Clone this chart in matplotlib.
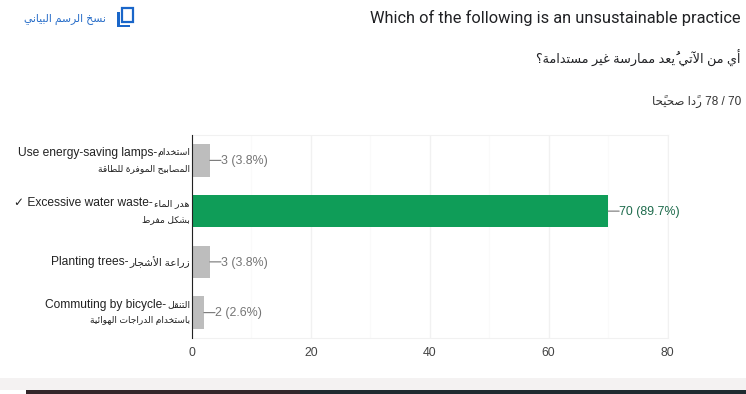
import matplotlib
matplotlib.use("Agg")
import matplotlib.pyplot as plt
from matplotlib.patches import Rectangle

W, H = 746, 394

title_en = "Which of the following is an unsustainable practice"
title_ar = "أي من الآتي يُعد ممارسة غير مستدامة؟"
score_ar = "ردًا صحيحًا"
score_num = "78 / 70"
copy_ar = "نسخ الرسم البياني"

labels_en = ["Use energy-saving lamps-", "✓ Excessive water waste-", "Planting trees-", "Commuting by bicycle-"]
labels_ar_1 = ["استخدام", "هدر الماء", "زراعة الأشجار", "التنقل"]
labels_ar_2 = ["المصابيح الموفرة للطاقة", "بشكل مفرط", "", "باستخدام الدراجات الهوائية"]
values = [3, 70, 3, 2]
percents = [3.8, 89.7, 3.8, 2.6]
correct = [False, True, False, False]
x_ticks = [0, 20, 40, 60, 80]
x_minor = [10, 30, 50, 70]

FONT = ["Liberation Sans", "DejaVu Sans"]

# matplotlib does no arabic shaping, so pick the presentation forms by hand
forms = {}
code = 0xFE80
for ch, n in zip("ءآأؤإئابةتثجحخدذرزسشصضطظعغفقكلمنهوىي",
                 [1, 2, 2, 2, 2, 4, 2, 4, 2, 4, 4, 4, 4, 4, 2, 2, 2, 2, 4, 4, 4, 4, 4, 4, 4, 4, 4, 4, 4, 4, 4, 4, 4, 2, 2, 4]):
    forms[ch] = [chr(code + i) for i in range(n)]
    code += n
lam_alef = {"آ": 0xFEF5, "أ": 0xFEF7, "إ": 0xFEF9, "ا": 0xFEFB}
marks = "\u064B\u064C\u064D\u064E\u064F\u0650\u0651\u0652"


def ar(text):
    """Returns arabic text joined and in visual (left to right) order."""
    clusters = []
    for c in text:
        if c in marks and clusters:
            clusters[-1][1] += c
        elif c in lam_alef and clusters and clusters[-1][0] == "ل":
            clusters[-1][0] = "ل" + c
        else:
            clusters.append([c, ""])
    out = []
    for i, (c, m) in enumerate(clusters):
        prev = clusters[i - 1][0] if i > 0 else " "
        nxt = clusters[i + 1][0] if i + 1 < len(clusters) else " "
        joins_prev = prev in forms and len(forms[prev]) == 4
        if len(c) == 2:
            g = chr(lam_alef[c[1]] + (1 if joins_prev else 0))
        elif c in forms:
            f = forms[c]
            joins_next = nxt[0] in forms and len(f) == 4 and nxt[0] != "ء"
            if len(f) == 1:
                g = f[0]
            elif joins_prev and joins_next:
                g = f[3]
            elif joins_next:
                g = f[2]
            elif joins_prev:
                g = f[1]
            else:
                g = f[0]
        else:
            g = c
        out.append(g + m)
    return "".join(reversed(out))


def px_text(fig, x, y, s, size_px, color, ha="right", family=FONT):
    fig.text(x / W, 1 - y / H, s, fontsize=size_px * 0.72, color=color, ha=ha, va="center", family=family)


def px_rect(fig, x0, y0, x1, y1, color):
    fig.add_artist(Rectangle((x0 / W, 1 - y1 / H), (x1 - x0) / W, (y1 - y0) / H, transform=fig.transFigure,
                             facecolor=color, edgecolor="none"))


def main():
    fig = plt.figure(figsize=(W / 100, H / 100), dpi=100)

    ax = fig.add_axes([192 / W, 1 - 338 / H, 475.5 / W, 203 / H])
    pos = list(range(len(values)))
    colors = ["#0f9d58" if c else "#bdbdbd" for c in correct]
    ax.barh(pos, values, height=0.64, color=colors, zorder=3)
    ax.set_xlim(0, 80)
    ax.set_ylim(3.5, -0.5)
    ax.set_yticks([])
    ax.set_xticks(x_ticks)
    ax.set_xticks(x_minor, minor=True)
    ax.grid(True, axis="x", which="major", color="#f1f1f1", lw=1, zorder=0)
    ax.grid(True, axis="x", which="minor", color="#fafafa", lw=1, zorder=0)
    ax.tick_params(axis="x", which="both", length=0, pad=6.5, labelsize=8.8, labelcolor="#444444")
    for name in ["top", "right", "bottom"]:
        ax.spines[name].set_color("#f1f1f1")
    ax.spines["left"].set_color("#222222")
    ax.spines["left"].set_zorder(5)
    for tick in ax.get_xticklabels():
        tick.set_family(FONT)

    for i, v in enumerate(values):
        col = "#1e6b4c" if correct[i] else "#757575"
        ax.annotate(f"{v} ({percents[i]}%)", xy=(v, i), xytext=(8.2, -0.6), textcoords="offset points",
                    va="center", ha="left", fontsize=8.9, color=col, family=FONT)
        # short connector from the bar end to its label
        ax.annotate("", xy=(v, i), xytext=(8, 0), textcoords="offset points",
                    arrowprops=dict(arrowstyle="-", color="#757575", lw=0.8, shrinkA=0, shrinkB=0))

    # category labels, arabic part is set smaller than the english part
    ends = [157, 152, 128, 166]
    ar_sizes = [9.5, 9.5, 10.5, 9.5]
    for i in range(len(values)):
        yc = 160.5 + i * 50.75
        if labels_ar_2[i]:
            y1, y2 = yc - 8, yc + 8
        else:
            y1, y2 = yc, yc
        px_text(fig, ends[i] + 0.5, y1, labels_en[i], 12, "#222222")
        px_text(fig, 190, y1, ar(labels_ar_1[i]), ar_sizes[i], "#222222")
        if labels_ar_2[i]:
            px_text(fig, 190, y2, ar(labels_ar_2[i]), 9.2, "#222222")

    px_text(fig, 741, 18, title_en, 16.4, "#202124", family=["Roboto", "DejaVu Sans"])
    px_text(fig, 741, 58, ar(title_ar), 12.8, "#202124")
    px_text(fig, 741, 102, f"{ar(score_ar)} {score_num}", 11.8, "#333333")
    px_text(fig, 106, 19, ar(copy_ar), 10.8, "#2a6fc9")

    # copy icon
    blue = "#1a66c9"
    fig.add_artist(Rectangle((122 / W, 1 - 22 / H), 11 / W, 14 / H, transform=fig.transFigure,
                             facecolor="white", edgecolor=blue, lw=1.6))
    px_rect(fig, 117, 12, 120, 27, blue)
    px_rect(fig, 117, 25, 130, 27, blue)

    # bit of the page below the chart
    px_rect(fig, 0, 378, W, 390, "#f4f2f2")
    px_rect(fig, 26, 390, 300, H, "#33262a")
    px_rect(fig, 300, 390, W, H, "#1f2b30")

    fig.savefig("out.png", dpi=100)


if __name__ == "__main__":
    main()
